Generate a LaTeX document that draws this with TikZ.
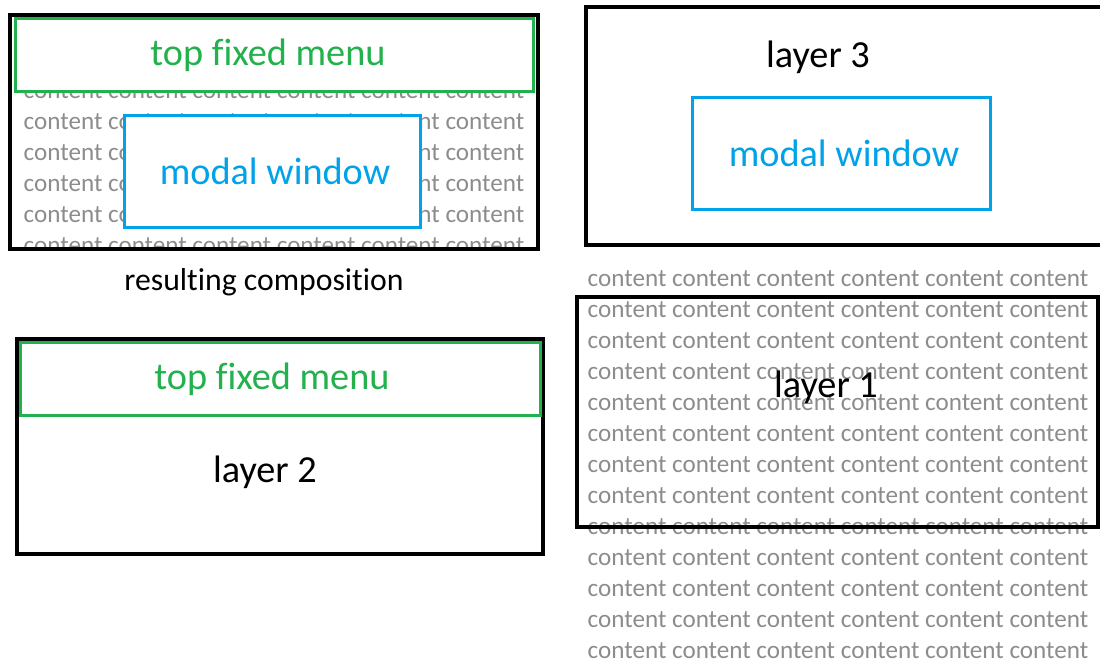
\documentclass[tikz,border=0pt]{standalone}
\usepackage{fontspec}
\setmainfont{Carlito}[Ligatures=NoCommon]

\definecolor{menuGreen}{RGB}{34,177,76}
\definecolor{modalBlue}{RGB}{0,162,232}
\definecolor{contentGray}{RGB}{140,140,140}

\tikzset{layerBox/.style={draw=black, line width=2.4pt}}
\tikzset{menuBox/.style={draw=menuGreen, line width=2.25pt, fill=white}}
\tikzset{modalBox/.style={draw=modalBlue, line width=2.25pt, fill=white}}
\tikzset{contentText/.style={inner sep=0pt, anchor=base, text=contentGray, font=\fontsize{18.85}{22}\selectfont}}
\tikzset{bigLabel/.style={inner sep=0pt, font=\fontsize{28.7}{34}\selectfont}}
\tikzset{captionLabel/.style={inner sep=0pt, font=\fontsize{23.8}{28}\selectfont}}

\newcommand{\contentRow}{content content content content content content}

\begin{document}
\begin{tikzpicture}[x=0.75pt, y=-0.75pt]
\useasboundingbox (0,0) rectangle (1100,661);

% resulting composition
\begin{scope}
  \clip (10,15) rectangle (538,249);
  \foreach \row in {0,...,5}
    \node[contentText] (c0\row) at (274, 98+31*\row) {\contentRow};
\end{scope}
\draw[menuBox] (15,18) rectangle (533,91);
\node[bigLabel, text=menuGreen] (menu0) at (268,55) {top fixed menu};
\draw[modalBox] (124,115) rectangle (420,227);
\node[bigLabel, text=modalBlue] (modal0) at (275,171) {modal window};
\draw[layerBox] (10,15) rectangle (538,249);
\node[captionLabel] (caption) at (264,282) {resulting composition};

% layer 2
\draw[layerBox] (17,339) rectangle (543,554);
\draw[menuBox] (20,342) rectangle (540,415);
\node[bigLabel, text=menuGreen] (menu2) at (272,379) {top fixed menu};
\node[bigLabel] (layer2) at (265,472) {layer 2};

% layer 3
\draw[layerBox] (586,7) rectangle (1104,245);
\node[bigLabel] (layer3) at (818,57) {layer 3};
\draw[modalBox] (692,97) rectangle (990,209);
\node[bigLabel, text=modalBlue] (modal3) at (844,153) {modal window};

% layer 1
\foreach \row in {0,...,12}
  \node[contentText] (c1\row) at (838, 286+31*\row) {\contentRow};
\draw[layerBox] (577,297) rectangle (1098,527);
\node[bigLabel] (layer1) at (826,387) {layer 1};

\end{tikzpicture}
\end{document}
